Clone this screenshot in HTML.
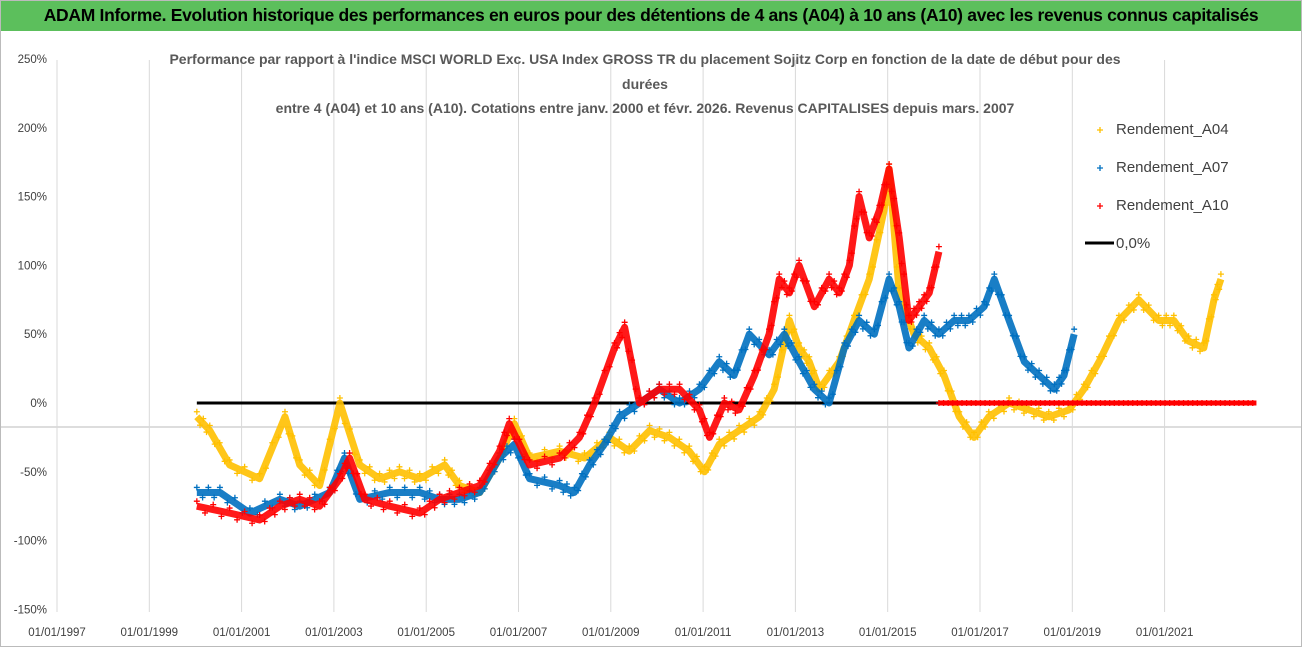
<!DOCTYPE html>
<html><head><meta charset="utf-8"><style>
body{margin:0;width:1302px;height:647px;overflow:hidden;background:#fff;font-family:"Liberation Sans",sans-serif}
#hdr{position:absolute;left:0;top:0;width:1302px;height:31px;background:#5cbf5c;color:#000;font-weight:bold;font-size:17.5px;line-height:31px;text-align:center;letter-spacing:-0.3px}
svg{position:absolute;left:0;top:0}
</style></head><body>
<div id="hdr">ADAM Informe. Evolution historique des performances en euros pour des détentions de 4 ans (A04) à 10 ans (A10) avec les revenus connus capitalisés</div>
<svg id="chart" width="1302" height="647"></svg>
<script>
const xTickYears=[1997,1999,2001,2003,2005,2007,2009,2011,2013,2015,2017,2019,2021];
const yTicks=[250,200,150,100,50,0,-50,-100,-150];
const yTickLabels=["250%","200%","150%","100%","50%","0%","-50%","-100%","-150%"];
const a04Years=[2000.03,2000.31,2000.74,2001.39,2001.94,2002.26,2002.69,2003.13,2003.56,2003.99,2004.42,2004.86,2005.40,2005.72,2006.16,2006.59,2006.91,2007.24,2007.89,2008.43,2008.97,2009.40,2009.84,2010.27,2010.70,2011.03,2011.35,2011.78,2012.22,2012.54,2012.87,2013.08,2013.30,2013.52,2013.95,2014.27,2014.60,2014.92,2015.03,2015.25,2015.57,2015.90,2016.22,2016.55,2016.87,2017.19,2017.63,2018.06,2018.49,2018.93,2019.25,2019.58,2020.01,2020.44,2020.87,2021.20,2021.52,2021.85,2022.07,2022.22];
const a04Values=[-10,-20,-45,-55,-10,-45,-60,0,-45,-55,-50,-55,-45,-60,-65,-40,-15,-40,-35,-40,-25,-35,-20,-25,-35,-50,-30,-20,-10,10,60,40,30,10,30,60,90,140,170,80,50,40,20,-10,-25,-10,0,-5,-10,-5,10,30,60,75,60,60,45,40,75,90];
const a07Years=[2000.03,2000.53,2001.18,2001.83,2002.26,2002.91,2003.23,2003.56,2004.21,2004.86,2005.29,2005.72,2006.16,2006.59,2006.91,2007.24,2007.89,2008.21,2008.54,2008.86,2009.19,2009.62,2010.05,2010.49,2010.92,2011.35,2011.67,2012.00,2012.43,2012.76,2013.08,2013.41,2013.73,2014.06,2014.38,2014.71,2015.03,2015.25,2015.46,2015.79,2016.11,2016.44,2016.76,2017.09,2017.31,2017.63,2017.96,2018.28,2018.61,2018.82,2019.04];
const a07Values=[-65,-65,-80,-70,-75,-65,-40,-70,-65,-65,-70,-70,-65,-40,-30,-55,-60,-65,-45,-30,-10,0,10,0,10,30,20,50,35,50,30,10,0,40,60,50,90,70,40,60,50,60,60,70,90,60,30,20,10,20,50];
const a10Years=[2000.03,2000.74,2001.39,2001.83,2002.26,2002.69,2003.13,2003.34,2003.67,2004.21,2004.86,2005.29,2005.72,2006.16,2006.59,2006.80,2007.24,2007.89,2008.32,2008.65,2009.08,2009.30,2009.62,2010.05,2010.49,2010.92,2011.14,2011.46,2011.78,2012.11,2012.43,2012.65,2012.87,2013.08,2013.41,2013.73,2013.95,2014.17,2014.38,2014.60,2014.82,2015.03,2015.25,2015.46,2015.68,2015.90,2016.11];
const a10Values=[-75,-80,-85,-75,-70,-75,-55,-40,-70,-75,-80,-70,-65,-60,-35,-15,-45,-40,-25,0,40,55,0,10,10,-5,-25,0,-5,20,50,90,80,100,70,90,80,100,150,120,140,170,120,60,70,80,110];
const a10ZeroStart=2016.11, a10ZeroEnd=2022.99;
const zeroLineStart=2000.03, zeroLineEnd=2016.11;

const svg=document.getElementById('chart');const NS='http://www.w3.org/2000/svg';
const X=y=>57+(y-1997)*46.15, Y=v=>403-v*1.376;
function mk(t,a,p){const e=document.createElementNS(NS,t);for(const k in a)e.setAttribute(k,a[k]);(p||svg).appendChild(e);return e;}
mk('rect',{x:0.5,y:0.5,width:1301,height:646,fill:'none',stroke:'#bbb'});
mk('line',{x1:0,x2:1302,y1:427,y2:427,stroke:'#bbb'});
xTickYears.forEach(y=>{const l=mk('line',{x1:X(y),x2:X(y),y1:60,y2:612,stroke:'#d9d9d9'});


const t=mk('text',{x:X(y),y:636,'text-anchor':'middle','font-size':11.5,fill:'#404040'});t.textContent='01/01/'+y;

});
yTicks.forEach((v,i)=>{const t=mk('text',{x:47,y:Y(v)+4,'text-anchor':'end','font-size':11.5,fill:'#404040'});t.textContent=yTickLabels[i];

});
const titles=["Performance par rapport à l'indice MSCI WORLD Exc. USA Index GROSS TR  du placement Sojitz Corp en fonction de la date de début pour des","durées","entre 4 (A04) et 10 ans (A10). Cotations entre janv. 2000 et févr. 2026. Revenus CAPITALISES depuis mars. 2007"];
[64,89,113].forEach((yy,i)=>{const t=mk('text',{x:645,y:yy,'text-anchor':'middle','font-size':14,'font-weight':'bold',fill:'#595959'});t.textContent=titles[i];

});
const zl=mk('line',{x1:X(zeroLineStart),x2:X(zeroLineEnd),y1:Y(0),y2:Y(0),stroke:'#000','stroke-width':3});


function plus(g,x,y,c){mk('path',{d:`M${x-3},${y}h6M${x},${y-3}v6`,stroke:c,'stroke-width':1.3},g);}
function series(ys,vs,c,name){const g=mk('g',{});


mk('polyline',{points:ys.map((y,i)=>X(y)+','+Y(vs[i])).join(' '),fill:'none',stroke:c,'stroke-width':7,'stroke-linejoin':'round','stroke-opacity':0.9},g);
for(let i=0;i<ys.length-1;i++){const x1=X(ys[i]),y1=Y(vs[i]),x2=X(ys[i+1]),y2=Y(vs[i+1]);
for(let k=0;k<4;k++){const f=k/4;plus(g,x1+(x2-x1)*f,y1+(y2-y1)*f+(k%2?5:-5),c);}}
plus(g,X(ys[ys.length-1]),Y(vs[vs.length-1])-5,c);}
series(a04Years,a04Values,'#ffc000','series-a04');
series(a07Years,a07Values,'#0070c0','series-a07');
series(a10Years,a10Values,'#ff0000','series-a10');
const rz=mk('g',{});
mk('line',{x1:X(a10ZeroStart),x2:X(a10ZeroEnd),y1:Y(0),y2:Y(0),stroke:'#ff0000','stroke-width':5},rz);
for(let y=a10ZeroStart;y<=a10ZeroEnd;y+=0.1)plus(rz,X(y),Y(0),'#ff0000');
const leg=[['Rendement_A04','#ffc000',134],['Rendement_A07','#0070c0',172],['Rendement_A10','#ff0000',210]];
leg.forEach(([n,c,yy])=>{const g=mk('g',{});
plus(g,1100,yy-4,c);const t=mk('text',{x:1116,y:yy,'font-size':15,fill:'#404040'},g);t.textContent=n;});
const lg=mk('g',{});
mk('line',{x1:1085,x2:1114,y1:243,y2:243,stroke:'#000','stroke-width':3},lg);
const lt=mk('text',{x:1116,y:248,'font-size':15,fill:'#404040'},lg);lt.textContent='0,0%';
</script></body></html>
